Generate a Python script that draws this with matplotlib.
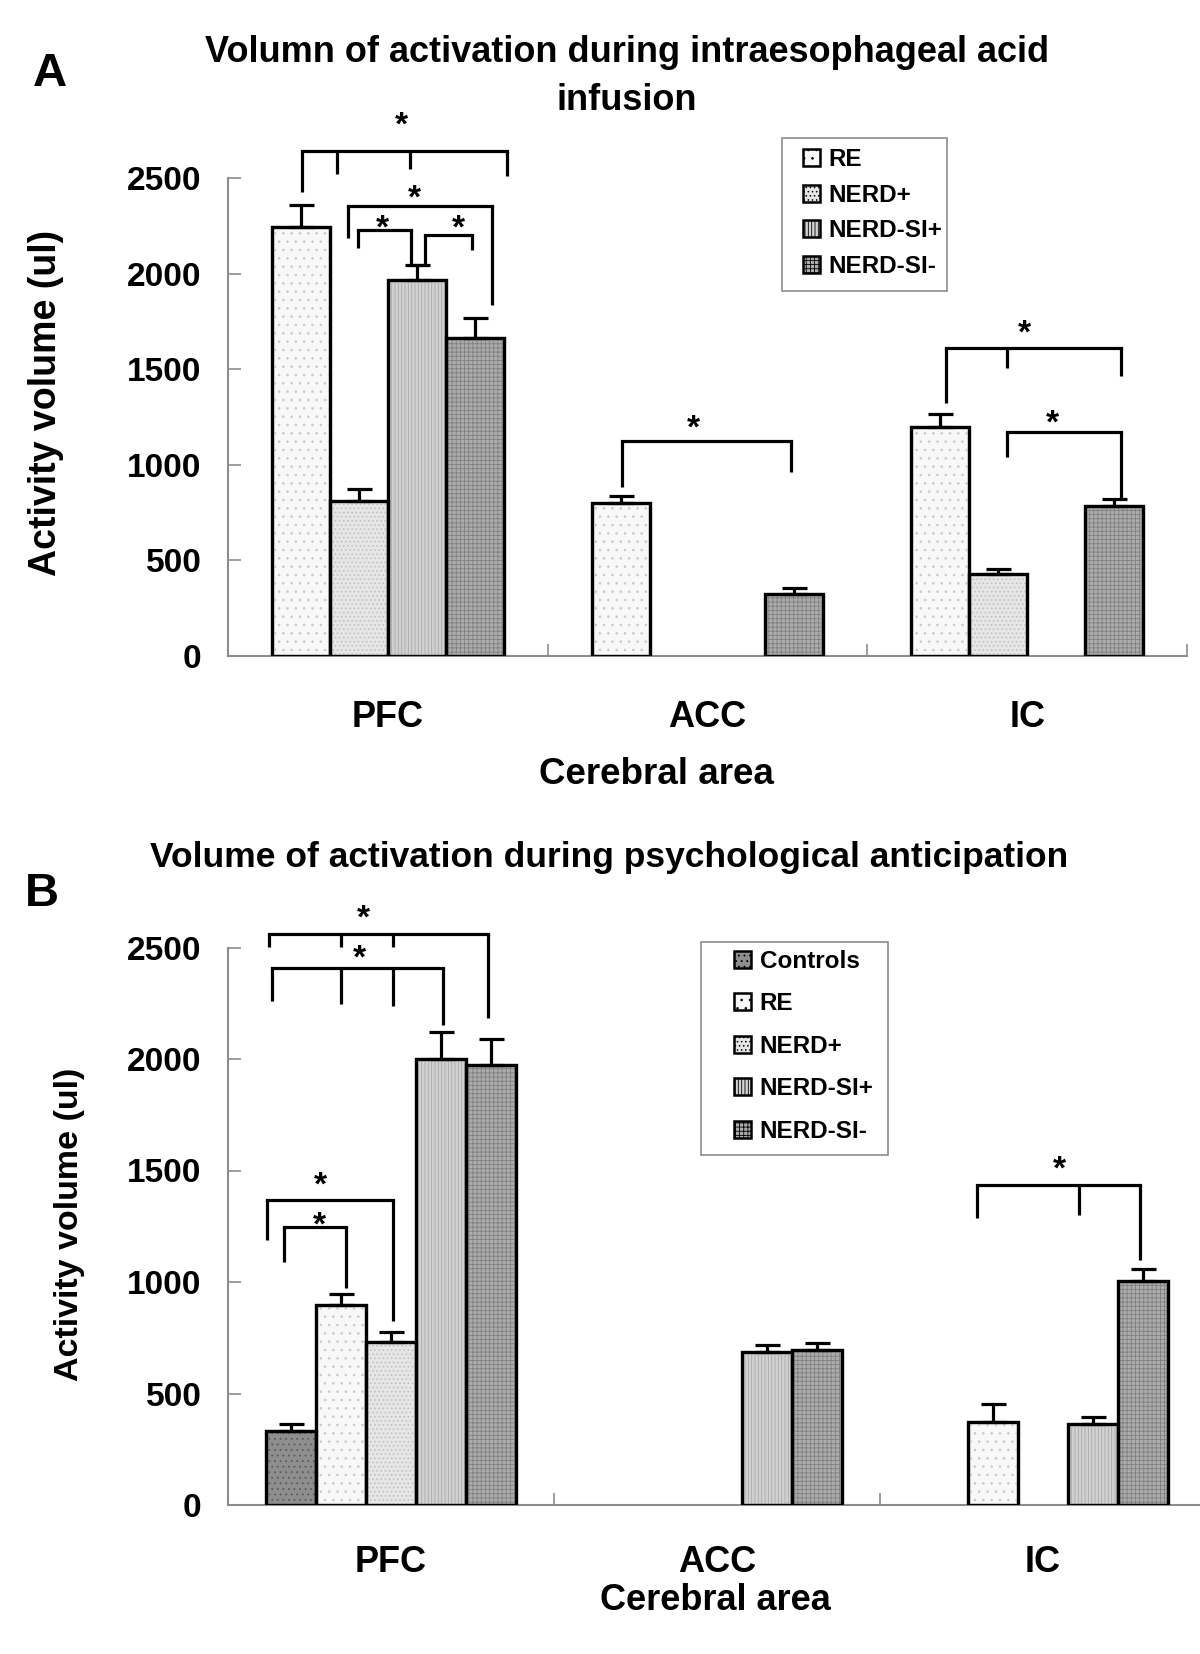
import numpy as np
import matplotlib
matplotlib.use('Agg')
import matplotlib.pyplot as plt
from matplotlib.patches import Patch, Rectangle

plt.rcParams['font.family'] = ['Liberation Sans', 'DejaVu Sans']
plt.rcParams['font.weight'] = 'bold'
plt.rcParams['hatch.linewidth'] = 0.6

nan = np.nan
areas = ['PFC', 'ACC', 'IC']

# ---------------- Panel A data ----------------
groups_a = ['RE', 'NERD+', 'NERD-SI+', 'NERD-SI-']
vals_a = {
    'RE':       [2244, 800, 1198],
    'NERD+':    [811, nan, 429],
    'NERD-SI+': [1967, nan, nan],
    'NERD-SI-': [1663, 324, 785],
}
err_a = {
    'RE':       [115, 35, 68],
    'NERD+':    [62, nan, 26],
    'NERD-SI+': [78, nan, nan],
    'NERD-SI-': [105, 30, 36],
}

# ---------------- Panel B data ----------------
groups_b = ['Controls', 'RE', 'NERD+', 'NERD-SI+', 'NERD-SI-']
vals_b = {
    'Controls': [332, nan, nan],
    'RE':       [897, nan, 372],
    'NERD+':    [731, nan, nan],
    'NERD-SI+': [1998, 686, 363],
    'NERD-SI-': [1975, 695, 1004],
}
err_b = {
    'Controls': [31, nan, nan],
    'RE':       [49, nan, 81],
    'NERD+':    [43, nan, nan],
    'NERD-SI+': [123, 31, 32],
    'NERD-SI-': [115, 31, 54],
}

yticks = [0, 500, 1000, 1500, 2000, 2500]

# significance brackets: (group, top value, [(x offset, leg bottom value), ...])
brackets_a = [
    (0, 2641, [(-0.269, 2427), (-0.160, 2521), (0.069, 2547), (0.372, 2510)]),
    (0, 2354, [(-0.125, 2186), (0.325, 1836)]),
    (0, 2228, [(-0.094, 2134), (0.072, 2045)]),
    (0, 2202, [(0.116, 2045), (0.263, 2123)]),
    (0, 2045, [(0.072, 2045), (0.116, 2045)]),
    (1, 1124, [(-0.269, 884), (0.260, 962)]),
    (2, 1611, [(-0.253, 1323), (-0.063, 1506), (0.294, 1464)]),
    (2, 1172, [(-0.063, 1041), (0.294, 821)]),
]
stars_a = [(0, 0.044, 2808), (0, 0.084, 2427), (0, -0.016, 2270), (0, 0.222, 2270),
           (1, -0.044, 1224), (2, -0.009, 1721), (2, 0.078, 1250)]

brackets_b = [
    (0, 2561, [(-0.374, 2502), (-0.153, 2502), (0.006, 2502), (0.298, 2184)]),
    (0, 2408, [(-0.365, 2260), (-0.153, 2247), (0.006, 2238), (0.160, 2152)]),
    (0, 1368, [(-0.380, 1188), (0.006, 825)]),
    (0, 1247, [(-0.328, 1090), (-0.138, 973)]),
    (2, 1435, [(-0.201, 1287), (0.110, 1300), (0.299, 1099)]),
]
stars_b = [(0, -0.086, 2659), (0, -0.098, 2480), (0, -0.215, 1462), (0, -0.221, 1283),
           (2, 0.049, 1534)]

# ---------------- styles ----------------
face = {'Controls': '#8e8e8e', 'RE': '#f8f8f8', 'NERD+': '#e6e6e6',
        'NERD-SI+': '#d2d2d2', 'NERD-SI-': '#acacac'}
hatch = {'Controls': '...', 'RE': '..', 'NERD+': '....',
         'NERD-SI+': '|||||', 'NERD-SI-': '++++'}
hcol = {'Controls': '#5a5a5a', 'RE': '#c8c8c8', 'NERD+': '#bdbdbd',
        'NERD-SI+': '#a8a8a8', 'NERD-SI-': '#808080'}

W, H = 1200, 1654
fig = plt.figure(figsize=(W / 100, H / 100), dpi=100)


def fx(px):
    return px / W


def fy(py):
    return 1 - py / H


def draw_panel(ax, groups, vals, errs, width, brackets, stars):
    n = len(groups)
    gx = np.arange(len(areas))
    for k, g in enumerate(groups):
        v = np.array(vals[g], dtype=float)
        e = np.array(errs[g], dtype=float)
        m = ~np.isnan(v)
        xs = gx[m] + (k - (n - 1) / 2) * width
        ax.bar(xs, v[m], width, color=face[g], edgecolor='black', linewidth=2.3, zorder=2)
        ax.bar(xs, v[m], width, facecolor='none', edgecolor=hcol[g], hatch=hatch[g],
               linewidth=0, zorder=2.5)
        ax.bar(xs, v[m], width, facecolor='none', edgecolor='black', linewidth=2.3, zorder=2.6)
        ax.errorbar(xs, v[m], yerr=[np.zeros(m.sum()), e[m]], fmt='none', ecolor='black',
                    elinewidth=2.3, capsize=9, capthick=2.3, zorder=3)
    for grp, top, legs in brackets:
        xs = [grp + x for x, _ in legs]
        ax.plot([min(xs), max(xs)], [top, top], color='black', lw=2.3,
                clip_on=False, zorder=4, solid_capstyle='projecting')
        for (x, b) in legs:
            ax.plot([grp + x, grp + x], [top, b], color='black', lw=2.3,
                    clip_on=False, zorder=4, solid_capstyle='butt')
    for grp, x, y in stars:
        ax.annotate('*', (grp + x, y), xytext=(0, -5.3), textcoords='offset points',
                    ha='center', va='center', fontsize=24, fontweight='bold',
                    annotation_clip=False, zorder=5)

    ax.set_xlim(-0.5, 2.5)
    ax.set_ylim(0, 2500)
    ax.set_yticks(yticks)
    ax.set_yticklabels([str(t) for t in yticks], fontsize=24, fontweight='bold')
    ax.set_xticks(gx)
    ax.set_xticklabels(areas, fontsize=26, fontweight='bold')
    ax.set_xticks([0.5, 1.5, 2.5], minor=True)
    for s in ['top', 'right']:
        ax.spines[s].set_visible(False)
    for s in ['left', 'bottom']:
        ax.spines[s].set_color('#8c8c8c')
        ax.spines[s].set_linewidth(1.5)
    ax.tick_params(axis='y', direction='in', length=9, width=1.2, color='#8c8c8c', pad=19)
    ax.tick_params(axis='x', which='major', length=0)
    ax.tick_params(axis='x', which='minor', direction='in', length=9, width=1.2,
                   color='#8c8c8c')
    ax.set_facecolor('none')


# ---------------- Panel A ----------------
axA = fig.add_axes([fx(228), fy(656), fx(1187 - 228), (656 - 178) / H])
draw_panel(axA, groups_a, vals_a, err_a, 0.181, brackets_a, stars_a)
axA.tick_params(axis='x', which='major', pad=32)

# ---------------- Panel B ----------------
axB = fig.add_axes([fx(228), fy(1505), fx(1206 - 228), (1505 - 947.5) / H])
draw_panel(axB, groups_b, vals_b, err_b, 0.153, brackets_b, stars_b)
axB.tick_params(axis='x', which='major', pad=29)

# ---------------- texts ----------------
fig.text(fx(50), fy(74), 'A', fontsize=34, fontweight='bold', ha='center', va='center')
fig.text(fx(42), fy(894), 'B', fontsize=34, fontweight='bold', ha='center', va='center')
fig.text(fx(627), fy(53), 'Volumn of activation during intraesophageal acid',
         fontsize=26, fontweight='bold', ha='center', va='center')
fig.text(fx(627), fy(100), 'infusion', fontsize=26, fontweight='bold', ha='center', va='center')
fig.text(fx(609), fy(857), 'Volume of activation during psychological anticipation',
         fontsize=25.5, fontweight='bold', ha='center', va='center')
fig.text(fx(46), fy(403), 'Activity volume (ul)', fontsize=27, fontweight='bold',
         rotation=90, ha='center', va='center')
fig.text(fx(70), fy(1224), 'Activity volume (ul)', fontsize=24.5, fontweight='bold',
         rotation=90, ha='center', va='center')
fig.text(fx(656), fy(774), 'Cerebral area', fontsize=26.5, fontweight='bold',
         ha='center', va='center')
fig.text(fx(715), fy(1601), 'Cerebral area', fontsize=26, fontweight='bold',
         ha='center', va='center')

# ---------------- legends ----------------
fig.patches.append(Rectangle((fx(782), fy(291)), fx(947 - 782), (291 - 138) / H,
                             transform=fig.transFigure, facecolor='white',
                             edgecolor='#8c8c8c', linewidth=1.2, zorder=1))
fig.patches.append(Rectangle((fx(701), fy(1155)), fx(888 - 701), (1155 - 942) / H,
                             transform=fig.transFigure, facecolor='white',
                             edgecolor='#8c8c8c', linewidth=1.2, zorder=1))


def handles(groups):
    return [Patch(facecolor=face[g], edgecolor='black', linewidth=1.8, hatch=hatch[g])
            for g in groups]


legA = fig.legend(handles(groups_a), groups_a, loc='upper left',
                  bbox_to_anchor=(fx(803), fy(148)), frameon=False,
                  handlelength=0.7, handleheight=0.7, handletextpad=0.35,
                  labelspacing=0.52, borderpad=0, borderaxespad=0,
                  prop={'weight': 'bold', 'size': 17.5})
legB = fig.legend(handles(groups_b), groups_b, loc='upper left',
                  bbox_to_anchor=(fx(734), fy(950)), frameon=False,
                  handlelength=0.7, handleheight=0.7, handletextpad=0.35,
                  labelspacing=0.8, borderpad=0, borderaxespad=0,
                  prop={'weight': 'bold', 'size': 17.5})
legA.set_zorder(5)
legB.set_zorder(5)

fig.savefig('out.png', dpi=100)
